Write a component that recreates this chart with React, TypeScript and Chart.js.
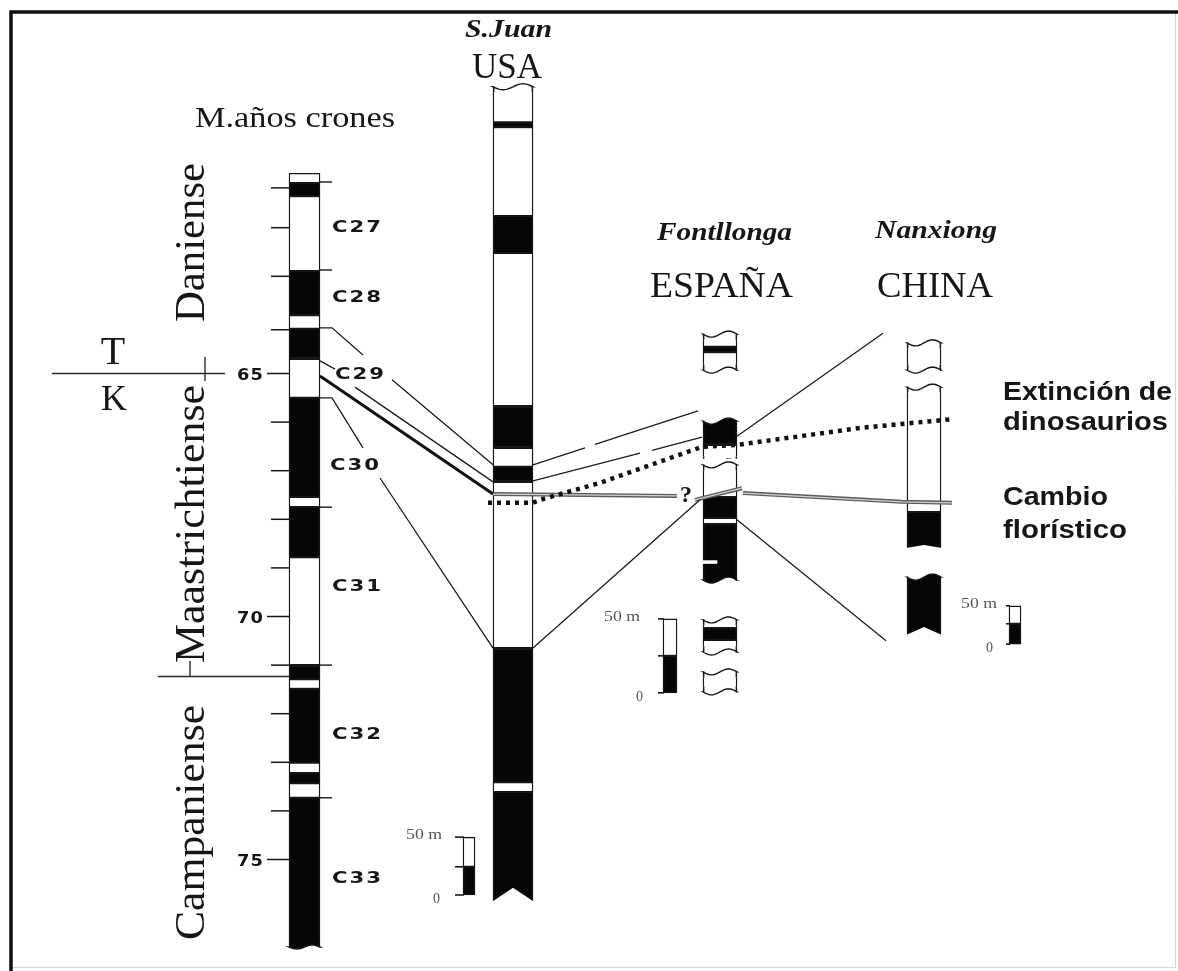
import React, { useEffect, useRef } from 'react';
import { Chart, registerables } from 'chart.js';

Chart.register(...registerables);

const W = 1178;
const H = 971;

// vertical scale = age (Ma), read from the magnetochron column (65, 70, 75)
const AGE_TOP = 57.3148;
const AGE_BOTTOM = 77.2942;

const BLACK = '#060606';
const WHITE = '#ffffff';
const INK = '#161616';

// column positions across the figure and their widths
const X_CHRON = 304.5, W_CHRON = 31;
const X_SJUAN = 513, W_SJUAN = 40;
const X_FONT = 720, W_FONT = 34;
const X_NANX = 924, W_NANX = 34;

// ---- magnetochron column (1 = normal polarity, black) ----
const CHRON_BOUNDS = [60.88, 61.08, 61.35, 62.89, 63.80, 64.08, 64.70, 65.50, 67.54, 67.75, 68.78, 71.00, 71.29, 71.49, 73.01, 73.22, 73.43, 73.73, 76.80];
const CHRON_NORMAL = [0, 1, 0, 1, 0, 1, 0, 1, 0, 1, 0, 1, 0, 1, 0, 1, 0, 1];
const CHRON_NAMES = ['C27', 'C28', 'C29', 'C30', 'C31', 'C32', 'C33'];
const CHRON_NAME_AGE = [61.97, 63.41, 64.99, 66.86, 69.36, 72.40, 75.37];
const CHRON_NAME_X = [332, 332, 335, 330, 332, 332, 332];
const CHRON_MARKS = [61.06, 62.87, 67.75, 71.00, 73.73];
const AGE_TICKS = [61.18, 62, 63, 64.1, 65, 66, 67, 68, 69, 70, 71, 72, 73, 74, 75];
const AGE_LABELS = [65, 70, 75];

// ---- San Juan (USA) ----
const SJUAN_BOUNDS = [59.10, 59.83, 59.93, 61.76, 62.52, 65.67, 66.53, 66.92, 67.23, 70.65, 73.41, 73.61, 75.87];
const SJUAN_NORMAL = [0, 1, 0, 1, 0, 1, 0, 1, 0, 1, 0, 1];

// ---- Fontllonga (España) ----
const FONT_TOP = [64.19, 64.45, 64.56, 65.98, 66.47, 66.88, 67.54, 67.97, 68.10, 70.07, 70.24, 70.48, 71.14];
const FONT_BOTTOM = [64.45, 64.56, 64.93, 66.47, 66.82, 67.54, 67.97, 68.10, 69.25, 70.24, 70.48, 70.73, 71.55];
const FONT_NORMAL = [0, 1, 0, 1, 0, 0, 1, 0, 1, 0, 1, 0, 0];
const FONT_PIECES = [[64.19, 64.93], [65.98, 66.82], [66.88, 69.25], [70.07, 70.73], [71.14, 71.55]];
const FONT_LENS = [68.85, 68.91];

// ---- Nanxiong (China) ----
const NANX_TOP = [64.37, 65.28, 67.85, 69.19];
const NANX_BOTTOM = [64.93, 67.85, 68.59, 70.38];
const NANX_NORMAL = [0, 0, 1, 1];

// ---- 50 m scale bars ----
const SCALE_SJUAN = [74.54, 75.15, 75.73];
const SCALE_FONT = [70.05, 70.81, 71.57];
const SCALE_NANX = [69.78, 70.15, 70.57];

// ---- correlation lines: [position across, age]; null = break ----
type Pt = [number, number] | null;
const LINE_C29_TOP: Pt[] = [[320, 64.06], [332, 64.06], [363, 64.62], null, [392, 65.13], [493, 66.88]];
const LINE_C29_MID: Pt[] = [[320, 64.74], [335, 64.91], null, [355, 65.28], [493, 67.23]];
const LINE_KT: Pt[] = [[320, 65.05], [493, 67.48]];
const LINE_C30_TOP: Pt[] = [[320, 65.50], [332, 65.50], [363, 66.53], null, [380, 67.15], [493, 70.65]];
const LINE_SJ_FONT_1: Pt[] = [[533, 66.88], [585, 66.53], null, [595, 66.46], [698, 65.77]];
const LINE_SJ_FONT_2: Pt[] = [[533, 67.21], [640, 66.64], null, [652, 66.58], [702, 66.31]];
const LINE_SJ_FONT_3: Pt[] = [[533, 70.65], [702, 67.56]];
const LINE_FONT_NANX_1: Pt[] = [[737, 66.29], [883, 64.17]];
const LINE_FONT_NANX_2: Pt[] = [[737, 68.01], [886, 70.50]];
const LINE_EXTINCTION: Pt[] = [[488, 67.66], [533, 67.66], [540, 67.60], [600, 67.25], [702, 66.51], [737, 66.47], [860, 66.12], [952, 65.94]];
const LINE_FLORA: Pt[] = [[493, 67.48], [677, 67.52], null, [695, 67.60], [742, 67.36], null, [743, 67.46], [902, 67.64], [952, 67.66]];

const SERIF = '"Liberation Serif", "Times New Roman", serif';
const SANS = '"Liberation Sans", Arial, sans-serif';
const DEJA = '"DejaVu Sans", sans-serif';

function toLineData(pts: Pt[]) {
  const out: any[] = [];
  let lastX = 0;
  for (const p of pts) {
    if (p) { out.push({ x: p[0], y: p[1] }); lastX = p[0]; }
    else out.push({ x: lastX, y: null });
  }
  return out;
}

function lineDs(pts: Pt[], o: any = {}) {
  return {
    type: 'line',
    data: toLineData(pts),
    borderColor: o.color || '#1c1c1c',
    borderWidth: o.width || 1.3,
    borderDash: o.dash || [],
    borderCapStyle: 'butt',
    pointRadius: 0,
    pointHoverRadius: 0,
    fill: false,
    tension: 0,
    spanGaps: false,
    order: o.order ?? 1,
  };
}

function barDs(x: number, w: number, tops: number[], bottoms: number[], normal: number[], extra: any = {}) {
  return {
    type: 'bar',
    data: tops.map((t, i) => ({ x, y: [t, bottoms[i]] })),
    backgroundColor: normal.map((n) => (n ? BLACK : WHITE)),
    borderColor: INK,
    borderWidth: 1.4,
    borderSkipped: false,
    barThickness: w,
    grouped: false,
    order: 10,
    colX: x,
    colW: w,
    ...extra,
  };
}

function drawWave(ctx: CanvasRenderingContext2D, x0: number, x1: number, y: number, side: string, fill: string, amp: number) {
  const N = 24;
  const pts: number[][] = [];
  for (let i = 0; i <= N; i++) {
    const t = i / N;
    pts.push([x0 + (x1 - x0) * t, y + amp * Math.sin(t * Math.PI * 2)]);
  }
  const out = side === 'top' ? -1 : 1;
  const far = y + out * (amp + 3);
  const near = y - out * (amp + 2.5);
  ctx.save();
  ctx.fillStyle = '#fff';
  ctx.beginPath();
  ctx.moveTo(x0 - 2, far);
  ctx.lineTo(x0 - 2, pts[0][1]);
  pts.forEach((p) => ctx.lineTo(p[0], p[1]));
  ctx.lineTo(x1 + 2, pts[N][1]);
  ctx.lineTo(x1 + 2, far);
  ctx.closePath();
  ctx.fill();
  ctx.fillStyle = fill;
  ctx.beginPath();
  ctx.moveTo(x0, near);
  pts.forEach((p) => ctx.lineTo(p[0], p[1]));
  ctx.lineTo(x1, near);
  ctx.closePath();
  ctx.fill();
  ctx.strokeStyle = INK;
  ctx.lineWidth = 1.4;
  ctx.beginPath();
  ctx.moveTo(x0 + 0.7, near);
  ctx.lineTo(x0 + 0.7, pts[0][1]);
  pts.forEach((p) => ctx.lineTo(p[0], p[1]));
  ctx.lineTo(x1 - 0.7, pts[N][1]);
  ctx.lineTo(x1 - 0.7, near);
  ctx.stroke();
  ctx.restore();
}

function drawNotch(ctx: CanvasRenderingContext2D, x0: number, x1: number, y: number, depth: number) {
  ctx.save();
  ctx.fillStyle = '#fff';
  ctx.beginPath();
  ctx.moveTo(x0 - 1, y + 2);
  ctx.lineTo(x0 - 1, y);
  ctx.lineTo((x0 + x1) / 2, y - depth);
  ctx.lineTo(x1 + 1, y);
  ctx.lineTo(x1 + 1, y + 2);
  ctx.closePath();
  ctx.fill();
  ctx.restore();
}

function text(ctx: CanvasRenderingContext2D, s: string, x: number, y: number, o: any) {
  ctx.save();
  ctx.font = o.font;
  ctx.fillStyle = o.color || INK;
  ctx.textBaseline = 'alphabetic';
  ctx.textAlign = 'left';
  const sp = o.spacing || 0;
  if (sp) (ctx as any).letterSpacing = sp + 'px';
  const m = ctx.measureText(s).width - sp;
  const sx = o.width ? o.width / m : 1;
  ctx.translate(x, y);
  if (o.rot) ctx.rotate(o.rot);
  ctx.scale(sx, 1);
  const off = o.align === 'center' ? -m / 2 : o.align === 'right' ? -m : 0;
  ctx.fillText(s, off, 0);
  ctx.restore();
}

function seg(ctx: CanvasRenderingContext2D, x0: number, y0: number, x1: number, y1: number, w = 1.5, c = INK) {
  ctx.save();
  ctx.strokeStyle = c;
  ctx.lineWidth = w;
  ctx.beginPath();
  ctx.moveTo(x0, y0);
  ctx.lineTo(x1, y1);
  ctx.stroke();
  ctx.restore();
}

const diagramPlugin = {
  id: 'diagram',
  afterDatasetDraw(chart: any, args: any) {
    const ds: any = chart.data.datasets[args.index];
    if (!ds || !ds.caps) return;
    const ctx = chart.ctx;
    const X = (v: number) => chart.scales.x.getPixelForValue(v);
    const Y = (v: number) => chart.scales.y.getPixelForValue(v);
    const cx = X(ds.colX);
    const x0 = cx - ds.colW / 2;
    const x1 = cx + ds.colW / 2;
    for (const c of ds.caps) {
      if (c.kind === 'wave') drawWave(ctx, x0, x1, Y(c.y), c.side, c.fill, c.amp ?? 3);
      else drawNotch(ctx, x0, x1, Y(c.y), c.depth);
    }
  },
  afterDatasetsDraw(chart: any) {
    const ctx: CanvasRenderingContext2D = chart.ctx;
    const X = (v: number) => chart.scales.x.getPixelForValue(v);
    const Y = (v: number) => chart.scales.y.getPixelForValue(v);
    const colL = X(X_CHRON) - W_CHRON / 2;
    const colR = X(X_CHRON) + W_CHRON / 2;

    // age ticks on the chron column
    AGE_TICKS.forEach((a) => {
      const y = Y(a);
      seg(ctx, AGE_LABELS.includes(a) ? 267 : 271, y, colL, y, 1.5);
    });
    AGE_LABELS.forEach((a) => {
      text(ctx, String(a), 263, Y(a) + 6, { font: `bold 15px ${DEJA}`, align: 'right', width: 26, spacing: 1 });
    });
    CHRON_MARKS.forEach((a) => seg(ctx, colR, Y(a), colR + 12, Y(a), 1.4));
    CHRON_NAMES.forEach((n, i) => {
      text(ctx, n, CHRON_NAME_X[i], Y(CHRON_NAME_AGE[i]) + 6, { font: `bold 16px ${DEJA}`, width: 49, spacing: 1.5 });
    });

    // stage names and boundaries
    text(ctx, 'M.años crones', 195, 127, { font: `30px ${SERIF}`, width: 200 });
    text(ctx, 'Daniense', 204, 322, { font: `42px ${SERIF}`, width: 159, rot: -Math.PI / 2 });
    text(ctx, 'Maastrichtiense', 204, 663, { font: `42px ${SERIF}`, width: 278, rot: -Math.PI / 2 });
    text(ctx, 'Campaniense', 204, 940, { font: `42px ${SERIF}`, width: 235, rot: -Math.PI / 2 });
    seg(ctx, 52, Y(65), 225, Y(65), 1.6, '#2a2a2a');
    seg(ctx, 158, 676.5, colL, 676.5, 1.4, '#2a2a2a');
    seg(ctx, 205, 357, 205, 381, 1.4, '#2a2a2a');
    seg(ctx, 190, 661, 190, 677, 1.4, '#2a2a2a');
    text(ctx, 'T', 113, 364, { font: `40px ${SERIF}`, align: 'center' });
    text(ctx, 'K', 114, 410, { font: `36px ${SERIF}`, align: 'center' });

    // section titles
    text(ctx, 'S.Juan', 465, 37, { font: `italic bold 25px ${SERIF}`, width: 87 });
    text(ctx, 'USA', 472, 78, { font: `35px ${SERIF}`, width: 70 });
    text(ctx, 'Fontllonga', 657, 240, { font: `italic bold 25px ${SERIF}`, width: 135 });
    text(ctx, 'ESPAÑA', 650, 297, { font: `35px ${SERIF}`, width: 143 });
    text(ctx, 'Nanxiong', 875, 238, { font: `italic bold 25px ${SERIF}`, width: 122 });
    text(ctx, 'CHINA', 877, 297, { font: `35px ${SERIF}`, width: 116 });
    text(ctx, '?', 680, 502, { font: `bold 24px ${SERIF}` });

    // event labels
    text(ctx, 'Extinción de', 1003, 400, { font: `bold 25px ${SANS}`, width: 169 });
    text(ctx, 'dinosaurios', 1003, 430, { font: `bold 25px ${SANS}`, width: 165 });
    text(ctx, 'Cambio', 1003, 505, { font: `bold 25px ${SANS}`, width: 105 });
    text(ctx, 'florístico', 1003, 538, { font: `bold 25px ${SANS}`, width: 124 });

    // 50 m scale bars
    const bars = [
      { ys: SCALE_SJUAN, cx: 469, w: 12, tick: 455, lx: 442, zx: 440 },
      { ys: SCALE_FONT, cx: 670, w: 14, tick: 658, lx: 640, zx: 643 },
      { ys: SCALE_NANX, cx: 1015, w: 12, tick: 1006, lx: 997, zx: 993 },
    ];
    bars.forEach((b) => {
      const left = X(b.cx) - b.w / 2;
      b.ys.forEach((a) => seg(ctx, b.tick, Y(a), left + 1, Y(a), 1.6));
      text(ctx, '50 m', b.lx, Y(b.ys[0]) + 2, { font: `15px ${SERIF}`, align: 'right', color: '#555', width: 36 });
      text(ctx, '0', b.zx, Y(b.ys[2]) + 8, { font: `14px ${SERIF}`, align: 'right', color: '#555' });
    });

    // frame
    ctx.save();
    ctx.strokeStyle = '#d4d4d4';
    ctx.lineWidth = 1;
    ctx.beginPath();
    ctx.moveTo(1175.5, 12);
    ctx.lineTo(1175.5, 967.5);
    ctx.lineTo(11, 967.5);
    ctx.stroke();
    ctx.strokeStyle = '#111';
    ctx.lineWidth = 3.5;
    ctx.beginPath();
    ctx.moveTo(11, H);
    ctx.lineTo(11, 12);
    ctx.lineTo(W, 12);
    ctx.stroke();
    ctx.restore();
  },
};

function pieceCaps(pieces: number[][], tops: number[], bottoms: number[], normal: number[]) {
  const caps: any[] = [];
  pieces.forEach(([a, b]) => {
    const ti = tops.indexOf(a);
    const bi = bottoms.indexOf(b);
    caps.push({ y: a, side: 'top', kind: 'wave', fill: normal[ti] ? BLACK : WHITE });
    caps.push({ y: b, side: 'bottom', kind: 'wave', fill: normal[bi] ? BLACK : WHITE });
  });
  return caps;
}

function buildConfig(): any {
  const chronDs = barDs(X_CHRON, W_CHRON, CHRON_BOUNDS.slice(0, -1), CHRON_BOUNDS.slice(1), CHRON_NORMAL, {
    caps: [{ y: CHRON_BOUNDS[CHRON_BOUNDS.length - 1], side: 'bottom', kind: 'wave', fill: BLACK, amp: 2 }],
  });
  const sjDs = barDs(X_SJUAN, W_SJUAN, SJUAN_BOUNDS.slice(0, -1), SJUAN_BOUNDS.slice(1), SJUAN_NORMAL, {
    caps: [
      { y: SJUAN_BOUNDS[0], side: 'top', kind: 'wave', fill: WHITE },
      { y: SJUAN_BOUNDS[SJUAN_BOUNDS.length - 1], kind: 'notch', depth: 14 },
    ],
  });
  const fontDs = barDs(X_FONT, W_FONT, FONT_TOP, FONT_BOTTOM, FONT_NORMAL, {
    caps: pieceCaps(FONT_PIECES, FONT_TOP, FONT_BOTTOM, FONT_NORMAL),
  });
  const lensDs = { ...barDs(710, 14, [FONT_LENS[0]], [FONT_LENS[1]], [0]), borderWidth: 0, order: 9 };
  const nanxDs = barDs(X_NANX, W_NANX, NANX_TOP, NANX_BOTTOM, NANX_NORMAL, {
    caps: [
      { y: NANX_TOP[0], side: 'top', kind: 'wave', fill: WHITE },
      { y: NANX_BOTTOM[0], side: 'bottom', kind: 'wave', fill: WHITE },
      { y: NANX_TOP[1], side: 'top', kind: 'wave', fill: WHITE },
      { y: NANX_BOTTOM[2], kind: 'notch', depth: 3 },
      { y: NANX_TOP[3], side: 'top', kind: 'wave', fill: BLACK },
      { y: NANX_BOTTOM[3], kind: 'notch', depth: 8 },
    ],
  });
  const scaleDs = [
    barDs(469, 12, [SCALE_SJUAN[0], SCALE_SJUAN[1]], [SCALE_SJUAN[1], SCALE_SJUAN[2]], [0, 1]),
    barDs(670, 14, [SCALE_FONT[0], SCALE_FONT[1]], [SCALE_FONT[1], SCALE_FONT[2]], [0, 1]),
    barDs(1015, 12, [SCALE_NANX[0], SCALE_NANX[1]], [SCALE_NANX[1], SCALE_NANX[2]], [0, 1]),
  ];

  const datasets: any[] = [
    lineDs(LINE_EXTINCTION, { width: 4.5, dash: [4, 5], color: '#111' }),
    lineDs(LINE_FLORA, { width: 1.2, color: '#d2d2d2', order: 1 }),
    lineDs(LINE_FLORA, { width: 4, color: '#5c5c5c', order: 2 }),
    lineDs(LINE_KT, { width: 3, color: '#111' }),
    lineDs(LINE_C29_TOP),
    lineDs(LINE_C29_MID),
    lineDs(LINE_C30_TOP),
    lineDs(LINE_SJ_FONT_1),
    lineDs(LINE_SJ_FONT_2),
    lineDs(LINE_SJ_FONT_3),
    lineDs(LINE_FONT_NANX_1),
    lineDs(LINE_FONT_NANX_2),
    chronDs,
    sjDs,
    fontDs,
    lensDs,
    nanxDs,
    ...scaleDs,
  ];

  return {
    type: 'bar',
    data: { datasets },
    plugins: [diagramPlugin],
    options: {
      animation: false,
      responsive: false,
      maintainAspectRatio: false,
      events: [],
      layout: { padding: 0 },
      plugins: { legend: { display: false }, tooltip: { enabled: false }, title: { display: false } },
      scales: {
        x: { type: 'linear', min: 0, max: W, display: false, offset: false, bounds: 'data', grid: { display: false } },
        y: { type: 'linear', min: AGE_TOP, max: AGE_BOTTOM, reverse: true, display: false, bounds: 'data', grid: { display: false } },
      },
    },
  };
}

export default function App() {
  const ref = useRef<HTMLCanvasElement>(null);
  useEffect(() => {
    const canvas = ref.current;
    if (!canvas) return;
    const chart = new Chart(canvas, buildConfig());
    return () => chart.destroy();
  }, []);
  return (
    <div style={{ position: 'fixed', left: 0, top: 0, width: W, height: H, background: '#fff' }}>
      <canvas ref={ref} width={W} height={H} style={{ display: 'block', width: W, height: H }} />
    </div>
  );
}
